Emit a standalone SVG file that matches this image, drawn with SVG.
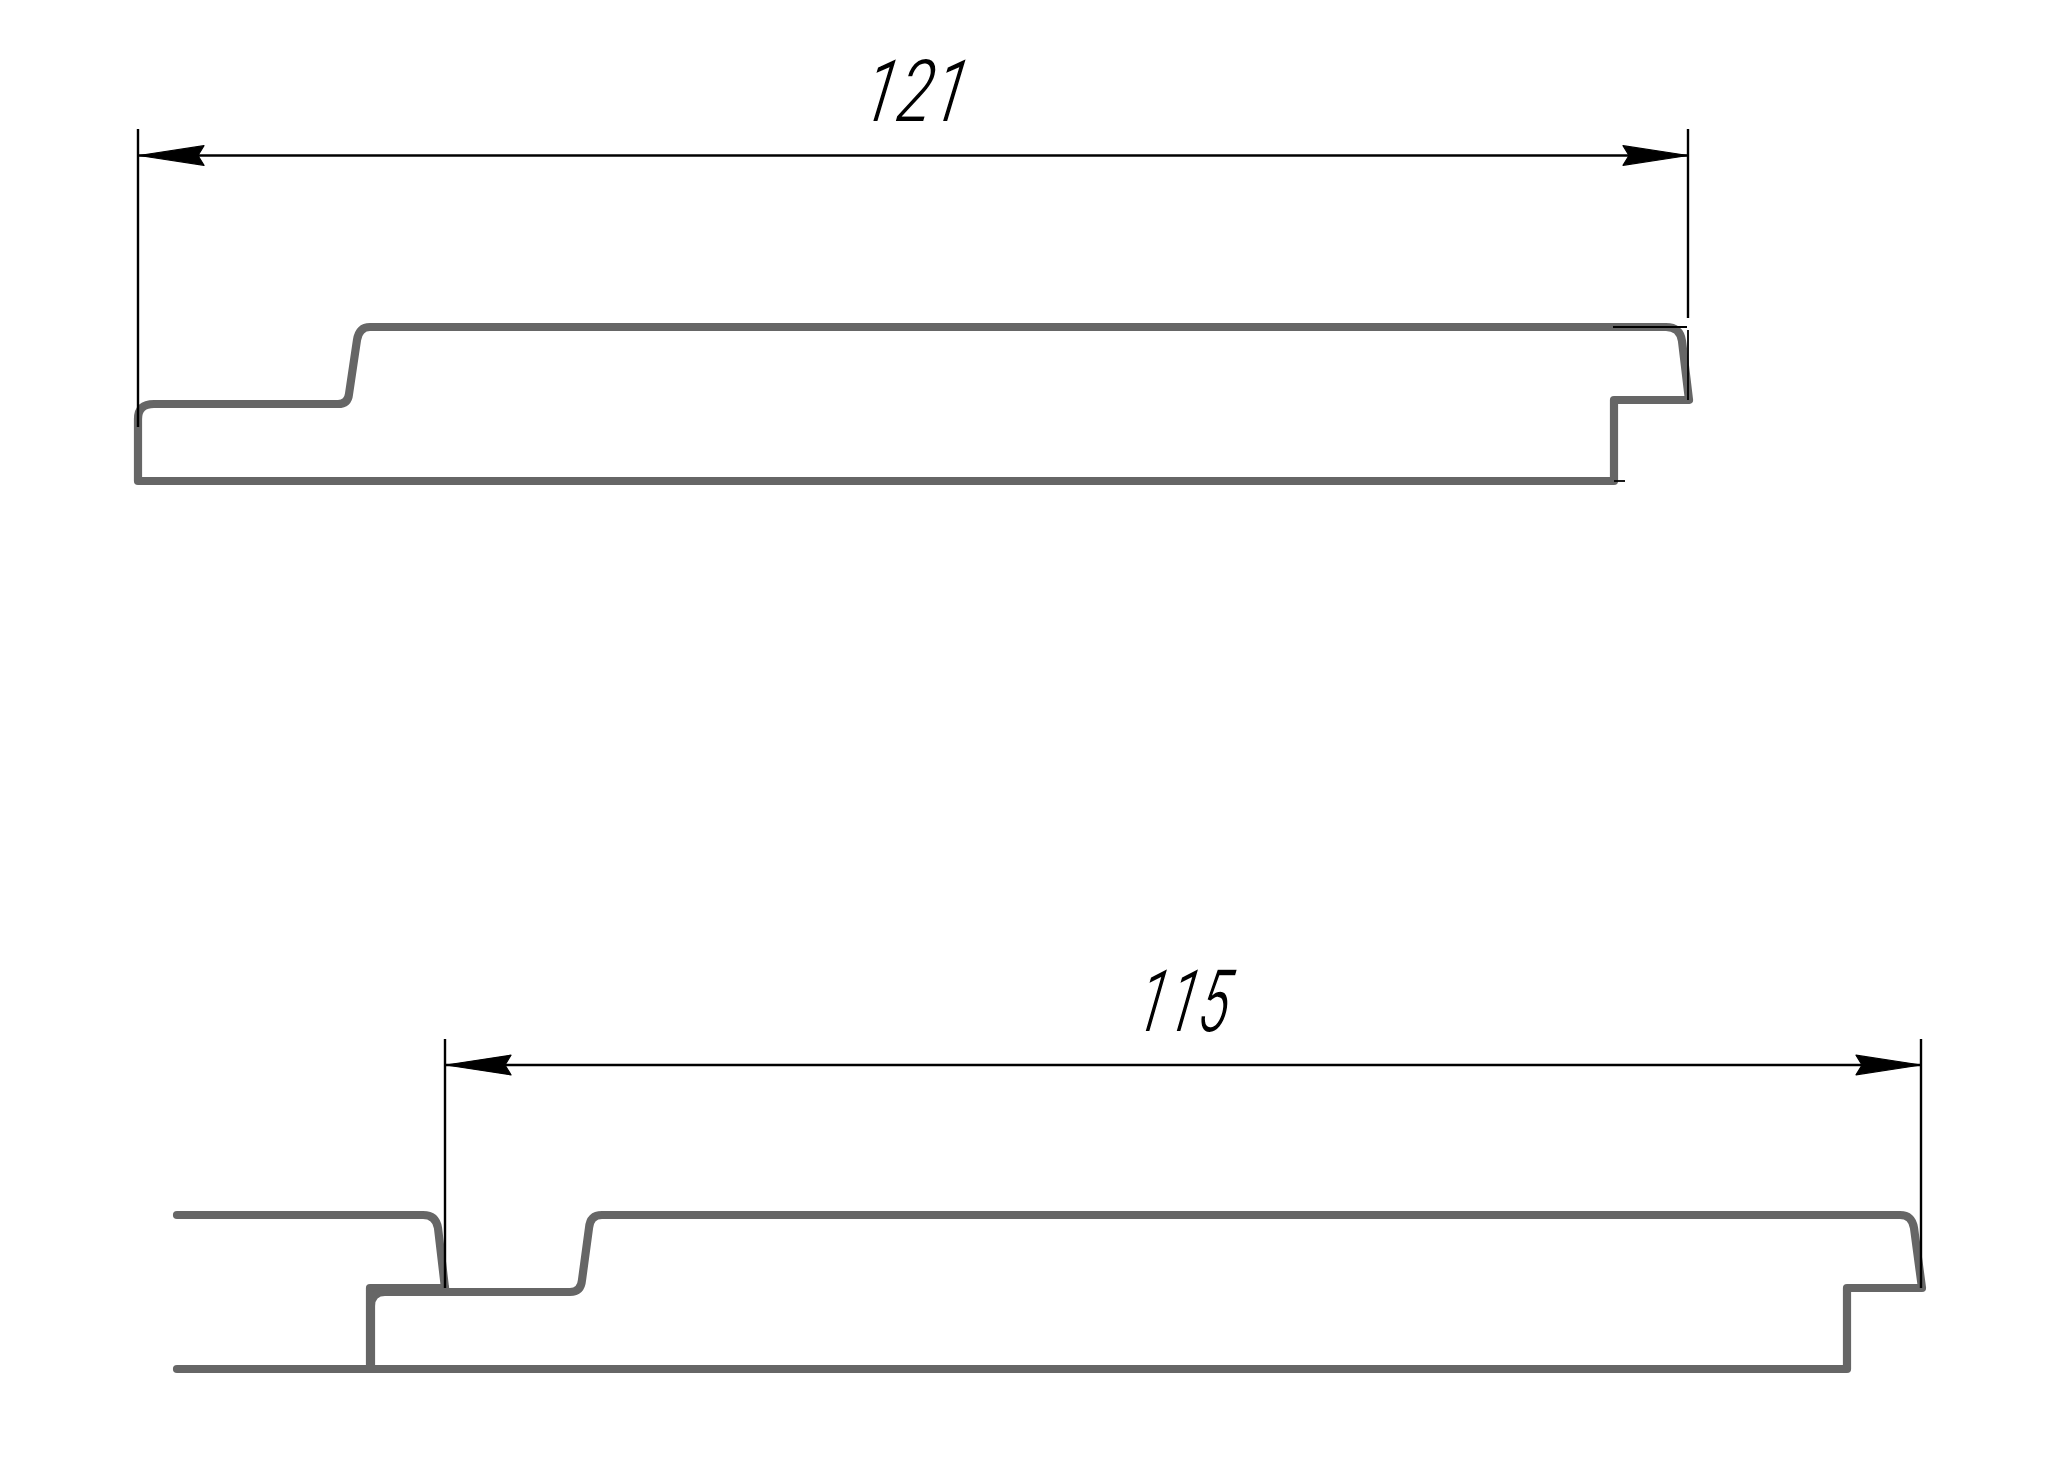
<svg xmlns="http://www.w3.org/2000/svg" width="2048" height="1476" viewBox="0 0 2048 1476">
<style>
.profile{fill:none;stroke:#666;stroke-width:8.2;stroke-linecap:round;stroke-linejoin:round}
.dim{fill:none;stroke:#000;stroke-width:2.4}
.thin{fill:none;stroke:#000;stroke-width:1.8}
.label{font-family:Roboto,"Liberation Sans",sans-serif;font-style:italic;font-size:89px;fill:#000;stroke:#fff;stroke-width:2px;paint-order:fill stroke}
</style>
<defs>
<marker id="arrow" markerUnits="userSpaceOnUse" viewBox="0 0 66 22" markerWidth="66" markerHeight="22" refX="66" refY="11" orient="auto-start-reverse">
<path d="M66 11L1 1.2Q4 6 7 11Q4 16 1 20.8Z" fill="#000" stroke="#000" stroke-width="1.2" stroke-linejoin="round"/>
</marker>
</defs>
<rect width="2048" height="1476" fill="#fff"/>
<g id="profile-top">
<path class="profile" d="M138 481V419Q138 404 154 404H338Q348 404 349 394L357 340Q359 327 370 327H1666Q1680 327 1682 341L1689 400H1614V481Z"/>
</g>
<g id="profile-bottom">
<path class="profile" d="M177 1215H423Q436 1215 438 1228L445 1288"/>
<path class="profile" d="M445 1288H370V1369"/>
<path class="profile" d="M177 1369H1847V1288H1922L1914 1228Q1912 1215 1900 1215H602Q590 1215 589 1228L582 1280Q581 1292 570 1292H385Q371 1292 371 1306V1369"/>
</g>
<g id="connectors">
<path class="dim" d="M138 129V427"/>
<path class="dim" d="M1688 129V318"/>
<path class="thin" d="M1688 330V400"/>
<path class="thin" d="M1613 327H1687"/>
<path class="thin" d="M1614 481H1625"/>
<path class="dim" d="M139 155.5H1688" marker-start="url(#arrow)" marker-end="url(#arrow)"/>
<path class="dim" d="M445 1039V1288"/>
<path class="dim" d="M1921 1039V1288"/>
<path class="dim" d="M446 1065H1921" marker-start="url(#arrow)" marker-end="url(#arrow)"/>
</g>
<g id="label-121"><text class="label" transform="translate(859 122) skewX(-10) scale(.72 1)">121</text></g>
<g id="label-115"><text class="label" transform="translate(1133 1032) skewX(-10) scale(.64 1)">115</text></g>
</svg>
